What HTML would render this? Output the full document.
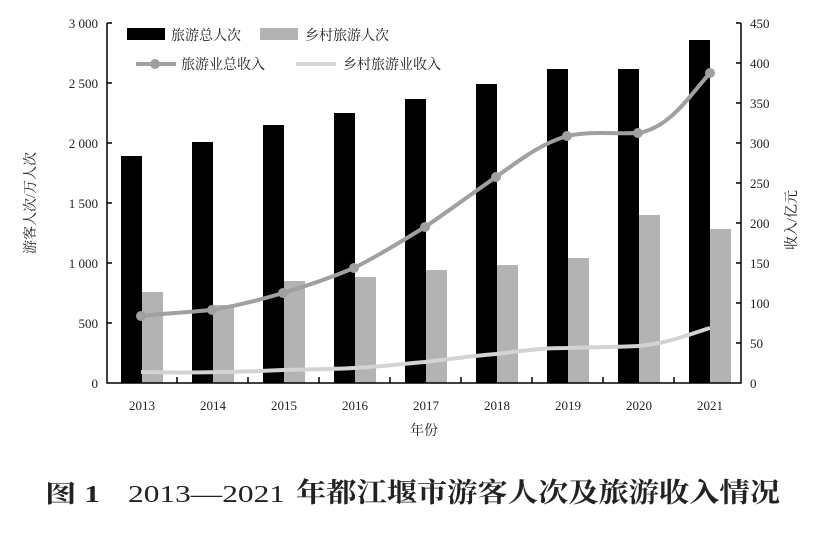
<!DOCTYPE html>
<html><head><meta charset="utf-8"><style>
body{margin:0;background:#fff;width:815px;height:542px;overflow:hidden}
text{font-family:"Liberation Serif","Noto Serif CJK SC",serif;fill:#222}
.cn{font-family:"Liberation Serif","Noto Serif CJK SC","Noto Sans CJK SC",serif}
</style></head><body>
<svg width="815" height="542" xmlns="http://www.w3.org/2000/svg">
<g fill="#000">
<rect x="121" y="156" width="21" height="227"/>
<rect x="192" y="142" width="21" height="241"/>
<rect x="263" y="125" width="21" height="258"/>
<rect x="334" y="113" width="21" height="270"/>
<rect x="405" y="99" width="21" height="284"/>
<rect x="476" y="84" width="21" height="299"/>
<rect x="547" y="69" width="21" height="314"/>
<rect x="618" y="69" width="21" height="314"/>
<rect x="689" y="40" width="21" height="343"/>
</g>
<g fill="#b3b3b3">
<rect x="142" y="292" width="21" height="91"/>
<rect x="213" y="305" width="21" height="78"/>
<rect x="284" y="281" width="21" height="102"/>
<rect x="355" y="277" width="21" height="106"/>
<rect x="426" y="270" width="21" height="113"/>
<rect x="497" y="265" width="21" height="118"/>
<rect x="568" y="258" width="21" height="125"/>
<rect x="639" y="215" width="21" height="168"/>
<rect x="710" y="229" width="21" height="154"/>
</g>
<path d="M141,372 C180,373 220,373 283,370 C320,369 340,369 354,368 C390,366 400,364 425,362 C460,358 470,356 496,354 C530,350 540,348 567,348 C600,347 620,347 638,346 C670,343 690,334 710,328" fill="none" stroke="#d3d3d3" stroke-width="4"/>
<path d="M141,316 C170,313 190,312 212,310 C240,305 260,300 283,293 C310,285 330,278 354,268 C380,255 400,242 425,227 C450,210 470,195 496,177 C520,160 540,144 567,136 C590,131 610,134 638,133 C670,128 690,95 710,73" fill="none" stroke="#a0a0a0" stroke-width="4"/>
<g fill="#a0a0a0">
<circle cx="141" cy="316" r="5"/><circle cx="212" cy="310" r="5"/><circle cx="283" cy="293" r="5"/><circle cx="354" cy="268" r="5"/><circle cx="425" cy="227" r="5"/><circle cx="496" cy="177" r="5"/><circle cx="567" cy="136" r="5"/><circle cx="638" cy="133" r="5"/><circle cx="710" cy="73" r="5"/>
</g>
<g stroke="#000" stroke-width="1.5" fill="none">
<path d="M107,23 V383 H741 V23"/>
<path d="M107,23h5M107,83h5M107,143h5M107,203h5M107,263h5M107,323h5"/>
<path d="M741,23h-5M741,63h-5M741,103h-5M741,143h-5M741,183h-5M741,223h-5M741,263h-5M741,303h-5M741,343h-5"/>
<path d="M177,383v-6M248,383v-6M319,383v-6M390,383v-6M461,383v-6M532,383v-6M603,383v-6M674,383v-6"/>
</g>
<g font-size="13" text-anchor="end">
<text x="98" y="28">3 000</text><text x="98" y="88">2 500</text><text x="98" y="148">2 000</text><text x="98" y="208">1 500</text><text x="98" y="268">1 000</text><text x="98" y="328">500</text><text x="98" y="388">0</text>
</g>
<g font-size="13">
<text x="750" y="28">450</text><text x="750" y="68">400</text><text x="750" y="108">350</text><text x="750" y="148">300</text><text x="750" y="188">250</text><text x="750" y="228">200</text><text x="750" y="268">150</text><text x="750" y="308">100</text><text x="750" y="348">50</text><text x="750" y="388">0</text>
</g>
<g font-size="13" text-anchor="middle">
<text x="142" y="410">2013</text><text x="213" y="410">2014</text><text x="284" y="410">2015</text><text x="355" y="410">2016</text><text x="426" y="410">2017</text><text x="497" y="410">2018</text><text x="568" y="410">2019</text><text x="639" y="410">2020</text><text x="710" y="410">2021</text>
<text x="424" y="435" class="cn" font-size="14">年份</text>
</g>
<text class="cn" font-size="14" text-anchor="middle" transform="translate(35,203) rotate(-90)">游客人次/万人次</text>
<text class="cn" font-size="14" text-anchor="middle" transform="translate(796,220) rotate(-90)">收入/亿元</text>
<rect x="127" y="28" width="38" height="12" fill="#000"/>
<text x="171" y="40" class="cn" font-size="14">旅游总人次</text>
<rect x="260" y="28" width="38" height="12" fill="#b3b3b3"/>
<text x="305" y="40" class="cn" font-size="14">乡村旅游人次</text>
<line x1="136" y1="64" x2="176" y2="64" stroke="#a0a0a0" stroke-width="4"/><circle cx="155" cy="64" r="5" fill="#a0a0a0"/>
<text x="181" y="69" class="cn" font-size="14">旅游业总收入</text>
<line x1="296" y1="64" x2="336" y2="64" stroke="#d3d3d3" stroke-width="4"/>
<text x="343" y="69" class="cn" font-size="14">乡村旅游业收入</text>
<text x="45" y="502" class="cn" font-size="24" font-weight="bold" textLength="55" lengthAdjust="spacingAndGlyphs">图 1</text>
<text x="128" y="502" class="cn" font-size="24" textLength="157" lengthAdjust="spacingAndGlyphs">2013—2021</text>
<text x="296" y="502" class="cn" font-size="27" font-weight="bold" textLength="484" lengthAdjust="spacingAndGlyphs">年都江堰市游客人次及旅游收入情况</text>
</svg>
</body></html>
